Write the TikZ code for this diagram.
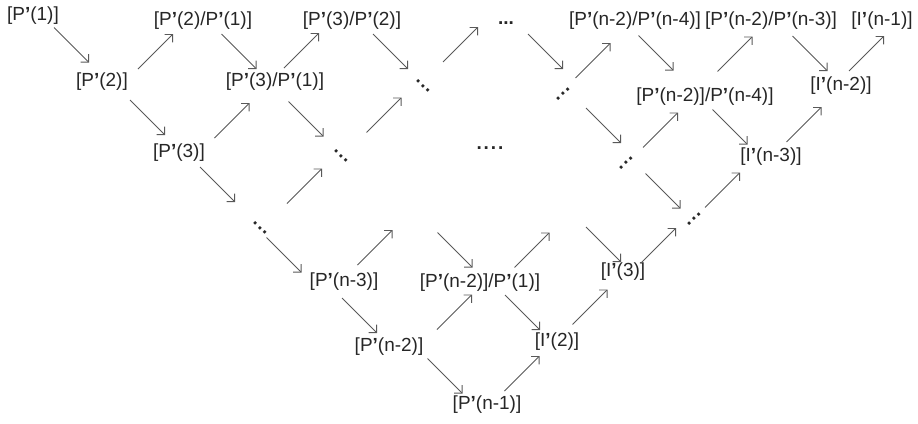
\documentclass[tikz,border=0pt]{standalone}
\usepackage{fontspec}
\setmainfont{Liberation Sans}
\usepackage{tikz}
\usetikzlibrary{arrows.meta,calc}
\newcommand{\apo}{\textbf{’}}

\begin{document}
\begin{tikzpicture}[
  x=0.025cm, y=-0.025cm,
  font=\fontsize{13.5}{16}\selectfont, text=black!85,
  lbl/.style={inner sep=1pt},
  dts/.style={font=\fontsize{13.5}{16}\selectfont\bfseries, inner sep=0pt},
  arr/.style={draw=black!65, line width=0.6pt,
              -{Straight Barb[length=1.4mm,width=2.8mm]}},
  dr/.style={to path={($(\tikztostart)!.5!(\tikztotarget)+(#1)+(-17.5,-17.5)$) -- ++(35,35)}},
  dr/.default={0,0},
  ur/.style={to path={($(\tikztostart)!.5!(\tikztotarget)+(#1)+(-17.5,17.5)$) -- ++(35,-35)}},
  ur/.default={0,0}
]
\useasboundingbox (0,0) rectangle (918,423);
\node[lbl] (p1) at (33,16) {[P\apo(1)]};
\node[lbl] (p21) at (203,21) {[P\apo(2)/P\apo(1)]};
\node[lbl] (p32) at (352,21) {[P\apo(3)/P\apo(2)]};
\node[dts] (dT) at (506,23) {...};
\node[lbl] (pn24) at (635,21) {[P\apo(n-2)/P\apo(n-4)]};
\node[lbl] (pn23) at (771,21) {[P\apo(n-2)/P\apo(n-3)]};
\node[lbl] (in1) at (882,21) {[I\apo(n-1)]};
\node[lbl] (p2) at (102,82) {[P\apo(2)]};
\node[lbl] (p31) at (275,82) {[P\apo(3)/P\apo(1)]};
\node[dts, rotate=-45] (dB) at (423,86) {.\kern1pt.\kern1pt.};
\node[dts, rotate=45] (dC) at (563,94) {.\kern1pt.\kern1pt.};
\node[lbl] (pn24b) at (705,97) {[P\apo(n-2)]/P\apo(n-4)]};
\node[lbl] (in2) at (841,86) {[I\apo(n-2)]};
\node[lbl] (p3) at (179,153) {[P\apo(3)]};
\node[dts, rotate=-45] (dA) at (341,156) {.\kern1pt.\kern1pt.};
\node[dts] (dM) at (490,148) {.\kern1.4pt.\kern1.4pt.\kern1.4pt.};
\node[dts, rotate=45] (dD) at (626,163) {.\kern1pt.\kern1pt.};
\node[lbl] (in3) at (771,157) {[I\apo(n-3)]};
\node[dts, rotate=-45] (dF) at (260,228) {.\kern1pt.\kern1pt.};
\node[dts, rotate=45] (dE) at (694,219) {.\kern1pt.\kern1pt.};
\coordinate (gapA) at (418,215);
\coordinate (gapB) at (584,217);
\node[lbl] (pn3) at (344,282) {[P\apo(n-3)]};
\node[lbl] (pn21) at (480,283) {[P\apo(n-2)]/P\apo(1)]};
\node[lbl] (i3) at (623,272) {[I\apo(3)]};
\node[lbl] (pn2) at (389,347) {[P\apo(n-2)]};
\node[lbl] (i2) at (557,342) {[I\apo(2)]};
\node[lbl] (pn1) at (487,405) {[P\apo(n-1)]};

\draw[arr, dr={4,-4}] (p1) to (p2);
\draw[arr, ur={3,0}] (p2) to (p21);
\draw[arr, dr={7,0}] (p2) to (p3);
\draw[arr, dr] (p21) to (p31);
\draw[arr, ur={5,3}] (p3) to (p31);
\draw[arr, ur={-12,-1}] (p31) to (p32);
\draw[arr, dr={-2,0}] (p31) to (dA);
\draw[arr, dr={3,-2}] (p32) to (dB);
\draw[arr, ur={2,-6}] (dA) to (dB);
\draw[arr, ur={-4,-10}] (dB) to (dT);
\draw[arr, dr={11,-7}] (dT) to (dC);
\draw[arr, ur={-6,3}] (dC) to (pn24);
\draw[arr, dr={-14,-6}] (pn24) to (pn24b);
\draw[arr, dr={9,-3}] (dC) to (dD);
\draw[arr, ur={-3,-5}] (pn24b) to (pn23);
\draw[arr, dr={4,0}] (pn23) to (in2);
\draw[arr, ur={5,0}] (in2) to (in1);
\draw[arr, ur={-5,0}] (dD) to (pn24b);
\draw[arr, dr={-8,0}] (pn24b) to (in3);
\draw[arr, ur={-2,3}] (in3) to (in2);
\draw[arr, dr={3,0}] (dD) to (dE);
\draw[arr, ur={-10,2}] (dE) to (in3);
\draw[arr, ur] (i3) to (dE);
\draw[arr, dr] (gapB) to (i3);
\draw[arr, dr={-2,-6}] (p3) to (dF);
\draw[arr, ur={4,-6}] (dF) to (dA);
\draw[arr, dr={-18,0}] (dF) to (pn3);
\draw[arr, ur={-6,-1}] (pn3) to (gapA);
\draw[arr, dr={6,1}] (gapA) to (pn21);
\draw[arr, ur] (pn21) to (gapB);
\draw[arr, dr={-7,1}] (pn3) to (pn2);
\draw[arr, ur={20,-3}] (pn2) to (pn21);
\draw[arr, dr={4,0}] (pn21) to (i2);
\draw[arr, dr={7,0}] (pn2) to (pn1);
\draw[arr, ur] (pn1) to (i2);
\draw[arr, ur] (i2) to (i3);
\end{tikzpicture}
\end{document}
